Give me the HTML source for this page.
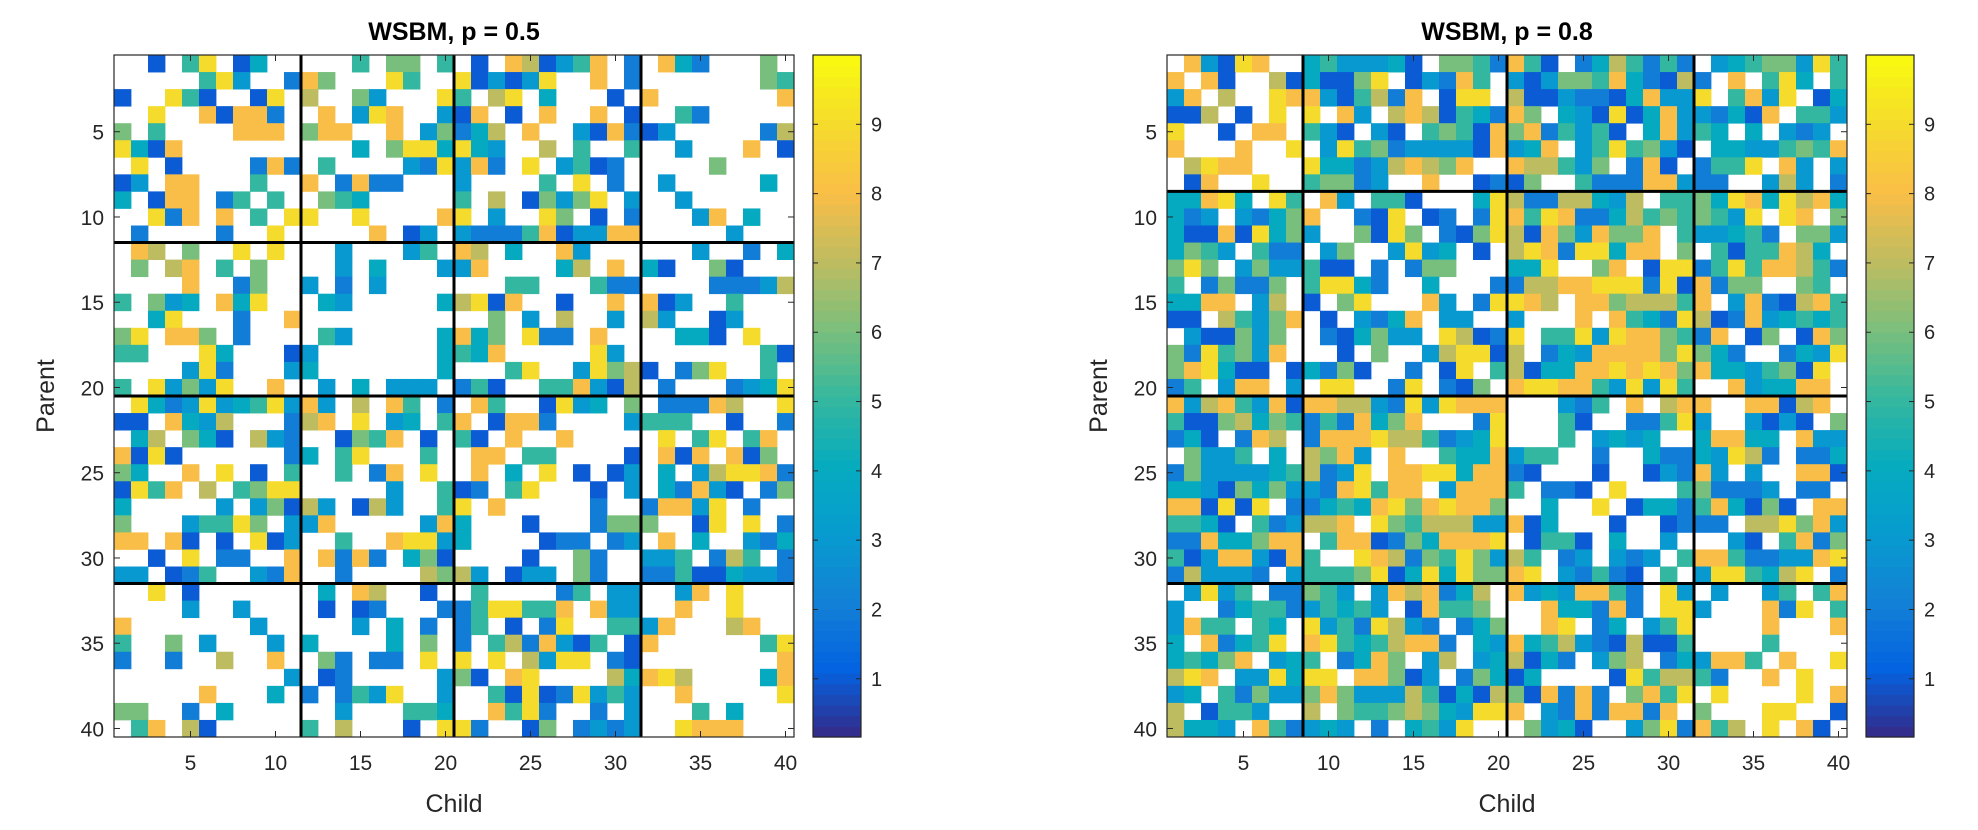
<!DOCTYPE html>
<html><head><meta charset="utf-8">
<style>
html,body{margin:0;padding:0;background:#fff;}
svg{display:block;font-family:"Liberation Sans",Arial,sans-serif;}
</style></head>
<body>
<svg id="fig" width="1978" height="830" viewBox="0 0 1978 830" xmlns="http://www.w3.org/2000/svg"></svg>
<script>
// Cell values ('.' = no edge, 1-9 weight); row = parent, segments split at block boundaries
const rowsA = [
"..1.59.14..|...5.66.5|.1.871358.2|.842...6.",
".....593..2|86...95..|913139..8.2|.......65",
"1..951..19.|7..63...9|5.79.4...1.|8.......8",
"..9..81882.|.8.398..3|18.1.8..8.1|..52.....",
"6.5....888.|688..8.36|247.8..3182|13.....27",
"9418.......|...4.6994|943..7.5..5|..3...8.1",
".9.1....282|.5....329|382.9.3512.|....6....",
"13.88...5..|8.2822...|3....5.9.2.|.3.....4.",
"4.188.25.5.|.654.....|5.7.16369.3|..3......",
"..928.8.5.9|9..9....8|9.3..96.1.2|...38.4..",
".2....2..9.|....8.13.|32225813388|.....3...",
".87.6..9.9.|..3...35.|87.4..83...|...3..2.4",
".6.78.5.6..|..3.4...3|38....47.8.|41..61...",
"....8..26..|3.2.3....|...55...522|....22237",
"5.634.849..|.43.....4|7918..1..8.|813..5...",
"..49...2..8|.........|..6.3.7..3.|73..13...",
"69.886.2...|.53.....4|846.922.8..|..441.9..",
"55...94...1|3.......4|548.....93.|.......51",
"....392...3|4.......4|...59..3967|1.269..5.",
"5.93639..8.|.3.4.333.|251..558317|.2...2349",
".9423934593|83.7.85.2|.85..1934.6|.22287..9",
"11.8437...2|78.9.34.5|8.1882....3|555..1..2",
".47.641.732|..1658.1.|51.8..8....|.9.59.58.",
"8191......2|4.59...5.|.88.55....1|.818.816.",
"64..8.9.1.5|..5.28.9.|.8.4.9.1.13|.4.379982",
"1958.7.5699|.....3..5|12.59...1.3|.42831.26",
"4.....3.361|73.173..5|9.8.....2..|28839.2..",
"6...35596.3|38.....38|4...1...266|6..19.9.2",
"88.81.1.913|..5..8993|4....122.23|.8.4..324",
"..1.9.22..8|.8282.461|....1..62..|335.275.2",
"33.125..328|..2....76|73.133.62..|225114332",
"..9.1......|.4.87..1.|.5....25.33|..38.9...",
"....3..3...|.1.12...2|2599558.833|..8..9...",
"8.......3..|...3.4.2.|25.1.29..55|38...78..",
"5..6.3...3.|4....4.6.|2.5728315.1|8......59",
"2..2..7..8.|.62.22.9.|9.9.7399.21|........8",
"..........3|.12.....3|61.89....74|897....48",
".....8...4.|2.2539..3|..519129353|..8.....9",
"66..2.4....|..3...554|..8592..2.3|...5.4...",
".58.71.....|5.7...1.9|92..16.2323|..9888..."
];
const rowsB = [
".83198..|4533341.6652|851.2475252|.34566395",
"8.81..71|41169.13285.|31366584217|2.8.594.5",
"38.7..98|8315728.199.|71132214833|9.5839.14",
"117.1.9.|9.83.7871542|86.43191483|32418.553",
"9..1.88.|531.31.56518|6825351.483|54.4.323.",
"8...8..9|.39562333318|348.3595631|.44335658",
".7988...|9442378768..|877536.281.|2559.83.3",
".18..9..|56623..8..12|16..5222883|22..373.2",
"44894.95|.83.551...49|72277437.55|649849784",
"423.3246|8..219.12.29|85982247565|6539.98.6",
"41181946|3..6196.2169|718638668.5|33452.663",
"4653.522|.36..3934.1.|798299488.6|.5155874.",
"696.3633|511.2.266...|449..68.199|259588752",
"5.26226.|59942..4...2|27788999291|8266..65.",
"4488.37.|1.69...83.29|987.8867775|8.3821785",
"11.75368|.1.3248.33..|3...8.85429|712834545",
".311636.|.214633.9712|9.559398865|28.16.186",
"6295638.|..1.6..37991|7.243888869|642..2439",
"689411.1|4261..2.19.5|71448898986|84435619.",
"25.388.3|.99..29.216.|89988539395|..834488.",
"83785381|887732939888|...325.8.78|8..88178.",
"51167465|2528468...29|...51..2259|3..3131.6",
"241.287.|288897752349|...5.3434..|48844.833",
".6335.4.|7683.8..5448|355..2..422|43972.224",
"26333345|7239.8899488|21...1..132|83.3..881",
"44316463|3289588.3888|5.221.9...5|62223.22.",
"881919.2|245489689886|..4..9.1442|584161.88",
"5541.523|778.96577733|814...1..12|22.779683",
"22844688|.58812648889|.1551.4..3.|..31.5826",
"51388318|5..987265963|75.23.323.5|885223389",
"273332.3|555691494966|89.32521.5.|3995479.2",
".3935.22|653.3878247.|83438852.93|.3..35.58",
"3..24552|35453.18556.|..844282.99|3...829.5",
"3855.54.|93529732.246|..89.24.359|....8...8",
"4.82459.|895457882.43|84573217115|....5....",
"45468.34|5.2486.37.34|7142.367.24|3885.8..9",
"798.3394|99.88613.264|14....19577|52..8.9..",
"34.52633|686333751417|618282.6859|.9....9.8",
"7.1553..|7.6556764399|8.32828828.|6...99..1",
"7443.852|343.2.4539..|.6341..3692|857.9.81."
];
// Block boundaries (after these indices) per panel
const blocksA = [11, 20, 31];
const blocksB = [8, 20, 31];
const titles = ["WSBM, p = 0.5", "WSBM, p = 0.8"];
const tickVals = [5, 10, 15, 20, 25, 30, 35, 40];
const cbTicks = [1, 2, 3, 4, 5, 6, 7, 8, 9];
const cMin = 0.16, cMax = 10;

const NS = "http://www.w3.org/2000/svg";
const svg = document.getElementById("fig");
const parula = [[53,42,135],[3,99,225],[20,129,214],[6,156,207],[6,172,190],[55,184,157],[124,191,123],[192,188,96],[250,190,70],[245,219,44],[249,251,14]];
function cmap(v){
  let t = (v - cMin) / (cMax - cMin); t = Math.max(0, Math.min(1, t));
  const p = t * (parula.length - 1), i = Math.min(parula.length - 2, Math.floor(p)), f = p - i;
  const a = parula[i], b = parula[i+1];
  return "rgb(" + a.map((c,k)=>Math.round(c + (b[k]-c)*f)).join(",") + ")";
}
function mk(tag, attrs, parent){
  const e = document.createElementNS(NS, tag);
  for (const k in attrs) e.setAttribute(k, attrs[k]);
  (parent || svg).appendChild(e);
  return e;
}
function parseRow(s, blocks){
  const widths = [blocks[0], blocks[1]-blocks[0], blocks[2]-blocks[1], 40-blocks[2]];
  const segs = s.split("|");
  let out = "";
  widths.forEach((w, i) => { out += ((segs[i] || "") + ".".repeat(w)).slice(0, w); });
  return out;
}

function panel(ox, rows, blocks, title, idx){
  const g = mk("g", {});
  
  
  const X0 = ox, Y0 = 55, W = 680, H = 682, n = 40;
  const cw = W / n, ch = H / n;
  const xS = v => X0 + (v - 0.5) * cw;
  const yS = v => Y0 + (v - 0.5) * ch;
  mk("rect", {x:X0, y:Y0, width:W, height:H, fill:"#fff"}, g);
  for (let r = 0; r < n; r++){
    const row = parseRow(rows[r] || "", blocks);
    for (let c = 0; c < n; c++){
      const chh = row[c];
      if (!(chh >= "1" && chh <= "9")) continue;
      const v = +chh;
      const cell = mk("rect", {x:xS(c+0.5).toFixed(2), y:yS(r+0.5).toFixed(2), width:(cw+0.4).toFixed(2), height:(ch+0.4).toFixed(2), fill:cmap(v)}, g);
      
      
    }
  }
  blocks.forEach(b => {
    const vl = mk("line", {x1:xS(b+0.5), x2:xS(b+0.5), y1:Y0, y2:Y0+H, stroke:"#000", "stroke-width":3}, g);
    
    
    const hl = mk("line", {y1:yS(b+0.5), y2:yS(b+0.5), x1:X0, x2:X0+W, stroke:"#000", "stroke-width":3}, g);
    
    
  });
  const box = mk("rect", {x:X0, y:Y0, width:W, height:H, fill:"none", stroke:"#262626", "stroke-width":1.2}, g);
  
  
  tickVals.forEach(v => {
    mk("line", {x1:xS(v), x2:xS(v), y1:Y0+H, y2:Y0+H-6, stroke:"#262626"}, g);
    mk("line", {x1:xS(v), x2:xS(v), y1:Y0, y2:Y0+6, stroke:"#262626"}, g);
    mk("line", {y1:yS(v), y2:yS(v), x1:X0, x2:X0+6, stroke:"#262626"}, g);
    mk("line", {y1:yS(v), y2:yS(v), x1:X0+W, x2:X0+W-6, stroke:"#262626"}, g);
    const tx = mk("text", {x:xS(v), y:Y0+H+33, "text-anchor":"middle", "font-size":21, fill:"#262626"}, g);
    tx.textContent = v;
    
    
    const ty = mk("text", {x:X0-10, y:yS(v)+8, "text-anchor":"end", "font-size":21, fill:"#262626"}, g);
    ty.textContent = v;
    
    
  });
  const tt = mk("text", {x:X0+W/2, y:40, "text-anchor":"middle", "font-size":25, "font-weight":"bold", fill:"#000"}, g);
  tt.textContent = title;
  
  
  const xl = mk("text", {x:X0+W/2, y:812, "text-anchor":"middle", "font-size":25, fill:"#262626"}, g);
  xl.textContent = "Child";
  
  
  const yl = mk("text", {x:0, y:0, "text-anchor":"middle", "font-size":25, fill:"#262626", transform:"translate(" + (X0-60) + "," + (Y0+H/2) + ") rotate(-90)"}, g);
  yl.textContent = "Parent";
  
  

  const cbX = X0 + 699, cbW = 48, cbY = Y0, cbH = H;
  const cb = mk("g", {}, g);
  
  
  const cyS = v => cbY + cbH - (v - cMin) / (cMax - cMin) * cbH;
  const steps = 64;
  for (let i = 0; i < steps; i++){
    const v0 = cMin + (cMax-cMin)*i/steps, v1 = cMin + (cMax-cMin)*(i+1)/steps;
    mk("rect", {x:cbX, y:cyS(v1).toFixed(2), width:cbW, height:(cyS(v0)-cyS(v1)+0.6).toFixed(2), fill:cmap((v0+v1)/2)}, cb);
  }
  mk("rect", {x:cbX, y:cbY, width:cbW, height:cbH, fill:"none", stroke:"#262626", "stroke-width":1.2}, cb);
  cbTicks.forEach(v => {
    mk("line", {x1:cbX+cbW, x2:cbX+cbW-5, y1:cyS(v), y2:cyS(v), stroke:"#262626"}, cb);
    mk("line", {x1:cbX, x2:cbX+5, y1:cyS(v), y2:cyS(v), stroke:"#262626"}, cb);
    const t = mk("text", {x:cbX+cbW+10, y:cyS(v)+7, "font-size":20, fill:"#262626"}, cb);
    t.textContent = v;
    
    
  });
}
panel(114, rowsA, blocksA, titles[0], 0);
panel(1167, rowsB, blocksB, titles[1], 1);
</script>
</body></html>
